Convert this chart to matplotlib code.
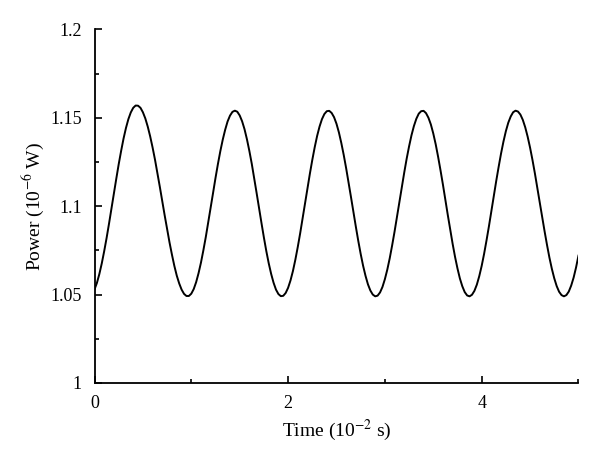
import matplotlib
matplotlib.use("Agg")
import matplotlib.pyplot as plt
from matplotlib.ticker import FixedLocator

# time in 10^-2 s, power in 10^-6 W
time = [i * 0.025 for i in range(201)]
power = [
    1.0529, 1.0566, 1.0616, 1.0676, 1.0745, 1.0820, 1.0901, 1.0986, 1.1070, 1.1155,
    1.1237, 1.1312, 1.1382, 1.1442, 1.1492, 1.1530, 1.1556, 1.1569, 1.1568, 1.1556,
    1.1531, 1.1496, 1.1450, 1.1395, 1.1332, 1.1263, 1.1187, 1.1109, 1.1028, 1.0948,
    1.0870, 1.0795, 1.0726, 1.0662, 1.0607, 1.0563, 1.0528, 1.0504, 1.0492, 1.0492,
    1.0505, 1.0531, 1.0570, 1.0621, 1.0681, 1.0751, 1.0826, 1.0908, 1.0991, 1.1075,
    1.1159, 1.1238, 1.1311, 1.1376, 1.1432, 1.1479, 1.1512, 1.1533, 1.1540, 1.1534,
    1.1513, 1.1480, 1.1435, 1.1378, 1.1312, 1.1239, 1.1158, 1.1074, 1.0989, 1.0905,
    1.0823, 1.0746, 1.0677, 1.0617, 1.0567, 1.0528, 1.0503, 1.0491, 1.0493, 1.0509,
    1.0538, 1.0580, 1.0633, 1.0697, 1.0769, 1.0847, 1.0930, 1.1015, 1.1100, 1.1183,
    1.1261, 1.1333, 1.1397, 1.1450, 1.1492, 1.1521, 1.1537, 1.1539, 1.1527, 1.1503,
    1.1466, 1.1417, 1.1357, 1.1289, 1.1214, 1.1134, 1.1051, 1.0966, 1.0884, 1.0804,
    1.0730, 1.0663, 1.0606, 1.0558, 1.0523, 1.0500, 1.0490, 1.0494, 1.0512, 1.0543,
    1.0587, 1.0641, 1.0705, 1.0778, 1.0856, 1.0938, 1.1023, 1.1108, 1.1190, 1.1268,
    1.1338, 1.1401, 1.1453, 1.1494, 1.1523, 1.1537, 1.1539, 1.1526, 1.1500, 1.1462,
    1.1411, 1.1350, 1.1279, 1.1202, 1.1121, 1.1035, 1.0950, 1.0867, 1.0787, 1.0713,
    1.0648, 1.0591, 1.0547, 1.0514, 1.0495, 1.0490, 1.0499, 1.0521, 1.0556, 1.0604,
    1.0662, 1.0730, 1.0806, 1.0886, 1.0971, 1.1056, 1.1141, 1.1221, 1.1297, 1.1365,
    1.1424, 1.1472, 1.1507, 1.1531, 1.1540, 1.1535, 1.1518, 1.1488, 1.1446, 1.1393,
    1.1331, 1.1261, 1.1185, 1.1104, 1.1021, 1.0938, 1.0858, 1.0781, 1.0709, 1.0646,
    1.0592, 1.0548, 1.0516, 1.0497, 1.0490, 1.0497, 1.0517, 1.0551, 1.0596, 1.0653,
    1.0720,
]

x_ticks = [0, 2, 4]
x_minor = [1, 3, 5]
y_ticks = [1.0, 1.05, 1.1, 1.15, 1.2]
y_tick_labels = ["1", "1.05", "1.1", "1.15", "1.2"]
y_minor = [1.025, 1.075, 1.125, 1.175]

plt.rcParams["font.family"] = ["Liberation Serif", "DejaVu Serif"]
plt.rcParams["mathtext.fontset"] = "stix"

fig = plt.figure(figsize=(6.0, 4.63), dpi=100)
ax = fig.add_axes([0.1575, 0.1728, 0.8066, 0.7639])

ax.plot(time, power, color="black", lw=1.4)

ax.set_xlim(0, 5)
ax.set_ylim(1.0, 1.2)
ax.set_xticks(x_ticks)
ax.set_xticklabels([str(t) for t in x_ticks])
ax.xaxis.set_minor_locator(FixedLocator(x_minor))
ax.set_yticks(y_ticks)
ax.set_yticklabels(y_tick_labels)
ax.yaxis.set_minor_locator(FixedLocator(y_minor))

for side in ["top", "right"]:
    ax.spines[side].set_visible(False)
for side in ["left", "bottom"]:
    ax.spines[side].set_linewidth(1.3)

ax.tick_params(which="major", direction="in", length=5, width=1.2,
               labelsize=13, pad=9)
ax.tick_params(which="minor", direction="in", length=3, width=1.2)

ax.set_xlabel(r"Time (10$^{-2}$ s)", fontsize=14, labelpad=4)
ax.set_ylabel(r"Power (10$^{-6}$ W)", fontsize=14, labelpad=3)

fig.savefig("out.png", dpi=100)
